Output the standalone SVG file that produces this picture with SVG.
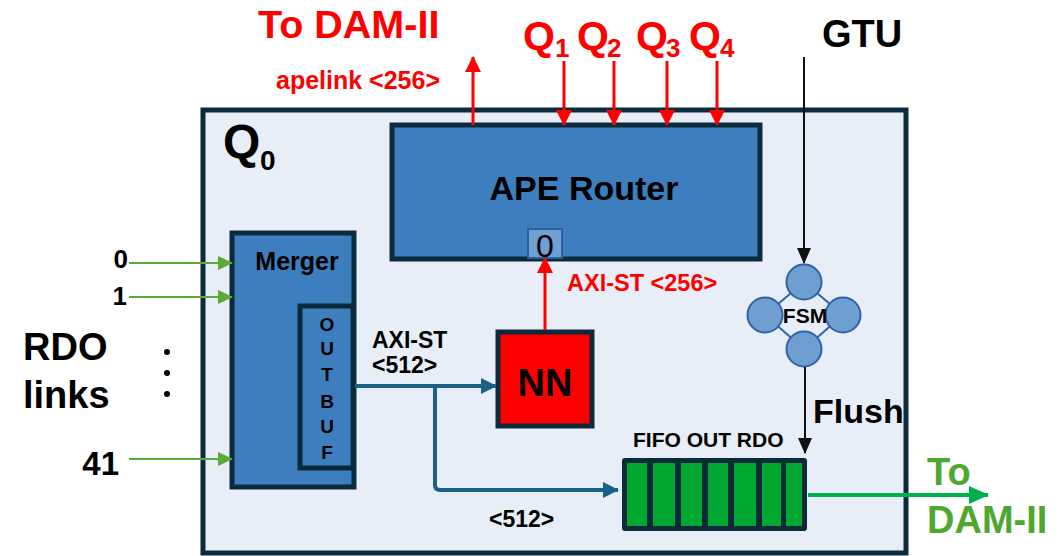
<svg xmlns="http://www.w3.org/2000/svg" width="1064" height="556" viewBox="0 0 1064 556">
<style>
text{font-family:"Liberation Sans",Arial,sans-serif;font-weight:bold}
.blk{fill:#000}
.red{fill:#ff0000}
.grn{fill:#4ea72e}
.box{stroke:#0b2a3b;stroke-width:5}
.blue{fill:#3d7ebf}
.cell{fill:#00a832}
.fsmc{fill:#6f9fd0;stroke:#2f62a8;stroke-width:2}
</style>
<defs>
<marker id="aRed" markerUnits="userSpaceOnUse" markerWidth="16" markerHeight="16" refX="15" refY="8" orient="auto"><path d="M0,0 L16,8 L0,16 z" fill="#ff0000"/></marker>
<marker id="aBlk" markerUnits="userSpaceOnUse" markerWidth="16" markerHeight="14" refX="15" refY="7" orient="auto"><path d="M0,0 L16,7 L0,14 z" fill="#111"/></marker>
<marker id="aGin" markerUnits="userSpaceOnUse" markerWidth="15" markerHeight="14" refX="14" refY="7" orient="auto"><path d="M0,0 L15,7 L0,14 z" fill="#58ab38"/></marker>
<marker id="aGout" markerUnits="userSpaceOnUse" markerWidth="20" markerHeight="18" refX="19" refY="9" orient="auto"><path d="M0,0 L20,9 L0,18 z" fill="#00b04f"/></marker>
<marker id="aBlue" markerUnits="userSpaceOnUse" markerWidth="16" markerHeight="16" refX="15" refY="8" orient="auto"><path d="M0,0 L16,8 L0,16 z" fill="#1b6185"/></marker>
</defs>
<rect width="1064" height="556" fill="#fff"/>

<g id="q0">
<rect x="203" y="110" width="703" height="443" fill="#e8eef7" class="box"/>
<text x="223" y="158" font-size="48" class="blk">Q</text>
<text x="260" y="170" font-size="28" class="blk">0</text>
</g>

<g id="ape-router">
<rect x="392" y="125" width="368" height="134" class="box blue"/>
<text x="584" y="200" font-size="34" text-anchor="middle" class="blk">APE Router</text>
<rect x="528" y="229" width="34" height="29" fill="#6f9fd3" stroke="#2e5f9a" stroke-width="2"/>
<text x="545" y="257" font-size="32" text-anchor="middle" style="font-weight:normal" class="blk">0</text>
</g>

<g id="merger">
<rect x="232" y="233" width="122" height="254" class="box blue" stroke-width="4"/>
<text x="297" y="270" font-size="25" text-anchor="middle" class="blk">Merger</text>
<rect x="300" y="306" width="53" height="162" class="box blue" stroke-width="4"/>
<g font-size="19" text-anchor="middle" class="blk">
<text x="327" y="331">O</text>
<text x="327" y="355">U</text>
<text x="327" y="381">T</text>
<text x="327" y="408">B</text>
<text x="327" y="433">U</text>
<text x="327" y="459">F</text>
</g>
</g>

<g id="nn">
<rect x="498" y="332" width="94" height="94" fill="#ff0000" class="box"/>
<text x="545" y="396" font-size="38" text-anchor="middle" class="blk">NN</text>
</g>

<g id="fsm">
<g stroke="#2f62a8" stroke-width="2">
<line x1="804" y1="282" x2="765" y2="315"/>
<line x1="804" y1="282" x2="843" y2="315"/>
<line x1="804" y1="349" x2="765" y2="315"/>
<line x1="804" y1="349" x2="843" y2="315"/>
</g>
<circle cx="804" cy="282" r="17.5" class="fsmc"/>
<circle cx="765" cy="315" r="17.5" class="fsmc"/>
<circle cx="843" cy="315" r="17.5" class="fsmc"/>
<circle cx="804" cy="349" r="17.5" class="fsmc"/>
<text x="805" y="323" font-size="21" text-anchor="middle" class="blk">FSM</text>
</g>

<g id="fifo">
<text x="633" y="447" font-size="21" class="blk">FIFO OUT RDO</text>
<rect x="622" y="458" width="185" height="73" rx="3" fill="#0b2b3b"/>
<rect x="627" y="463" width="20" height="63" class="cell"/>
<rect x="653" y="463" width="22" height="63" class="cell"/>
<rect x="681" y="463" width="21" height="63" class="cell"/>
<rect x="708" y="463" width="20" height="63" class="cell"/>
<rect x="734" y="463" width="22" height="63" class="cell"/>
<rect x="762" y="463" width="19" height="63" class="cell"/>
<rect x="786" y="463" width="16" height="63" class="cell"/>
</g>

<g id="labels">
<text x="258" y="38" font-size="39.5" class="red">To DAM-II</text>
<text x="276" y="89" font-size="25" class="red">apelink &lt;256&gt;</text>
<text x="523" y="50" font-size="41" class="red">Q</text><text x="555" y="57" font-size="26" class="red">1</text>
<text x="577" y="50" font-size="41" class="red">Q</text><text x="607" y="57" font-size="26" class="red">2</text>
<text x="636" y="50" font-size="41" class="red">Q</text><text x="666" y="57" font-size="26" class="red">3</text>
<text x="689" y="50" font-size="41" class="red">Q</text><text x="720" y="57" font-size="26" class="red">4</text>
<text x="822" y="47" font-size="38" class="blk">GTU</text>
<text x="567" y="291" font-size="23.5" class="red">AXI-ST &lt;256&gt;</text>
<text x="372" y="348" font-size="23" class="blk">AXI-ST</text>
<text x="372" y="373" font-size="23" class="blk">&lt;512&gt;</text>
<text x="489" y="527" font-size="23" class="blk">&lt;512&gt;</text>
<text x="813" y="423" font-size="34" class="blk">Flush</text>
<text x="927" y="485" font-size="38" class="grn">To</text>
<text x="927" y="533" font-size="38" class="grn">DAM-II</text>
<text x="128" y="268" font-size="26" text-anchor="end" class="blk">0</text>
<text x="127" y="305" font-size="26" text-anchor="end" class="blk">1</text>
<text x="119" y="475" font-size="33" text-anchor="end" class="blk">41</text>
<text x="23" y="360" font-size="38" class="blk">RDO</text>
<text x="23" y="408" font-size="38" class="blk">links</text>
<circle cx="167" cy="352" r="3" fill="#000"/>
<circle cx="167" cy="373" r="3" fill="#000"/>
<circle cx="167" cy="394" r="3" fill="#000"/>
</g>

<g id="connectors" fill="none">
<line x1="473" y1="125" x2="473" y2="57" stroke="#ff0000" stroke-width="3" marker-end="url(#aRed)"/>
<line x1="564" y1="61" x2="564" y2="125" stroke="#ff0000" stroke-width="3" marker-end="url(#aRed)"/>
<line x1="614" y1="61" x2="614" y2="125" stroke="#ff0000" stroke-width="3" marker-end="url(#aRed)"/>
<line x1="667" y1="61" x2="667" y2="125" stroke="#ff0000" stroke-width="3" marker-end="url(#aRed)"/>
<line x1="717" y1="61" x2="717" y2="125" stroke="#ff0000" stroke-width="3" marker-end="url(#aRed)"/>
<line x1="545" y1="330" x2="545" y2="258" stroke="#ff0000" stroke-width="3" marker-end="url(#aRed)"/>
<line x1="804" y1="57" x2="804" y2="263" stroke="#111" stroke-width="2" marker-end="url(#aBlk)"/>
<line x1="805" y1="367" x2="805" y2="453" stroke="#111" stroke-width="2" marker-end="url(#aBlk)"/>
<line x1="129" y1="263" x2="232" y2="263" stroke="#58ab38" stroke-width="2" marker-end="url(#aGin)"/>
<line x1="129" y1="297" x2="232" y2="297" stroke="#58ab38" stroke-width="2" marker-end="url(#aGin)"/>
<line x1="129" y1="459" x2="232" y2="459" stroke="#58ab38" stroke-width="2" marker-end="url(#aGin)"/>
<path d="M355,386 H496" stroke="#1b6185" stroke-width="4" marker-end="url(#aBlue)"/>
<path d="M435,386 V485 Q435,490 440,490 H618" stroke="#1b6185" stroke-width="4" marker-end="url(#aBlue)"/>
<line x1="808" y1="495" x2="988" y2="495" stroke="#00b04f" stroke-width="4" marker-end="url(#aGout)"/>
</g>
</svg>
